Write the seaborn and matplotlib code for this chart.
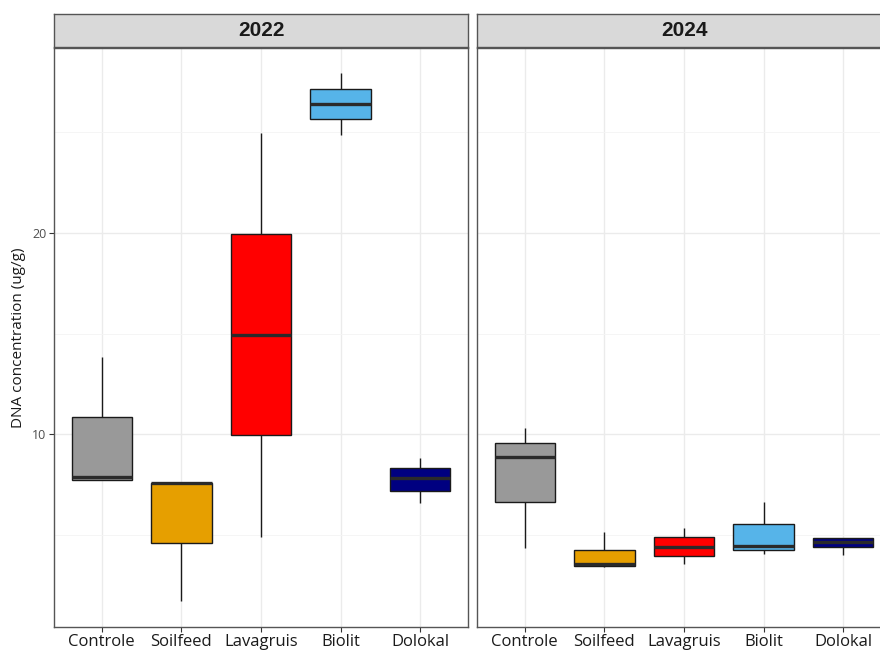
import matplotlib
matplotlib.use("Agg")
import matplotlib.pyplot as plt
import seaborn as sns
import pandas as pd

sns.set_theme(style="white")
plt.rcParams['font.family'] = ['Open Sans', 'DejaVu Sans']

categories = ["Controle", "Soilfeed", "Lavagruis", "Biolit", "Dolokal"]
years = ["2022", "2024"]
# five-number summaries: min, q1, median, q3, max
stats_2022 = {
    "Controle":  [7.73, 7.73, 7.87, 10.86, 13.85],
    "Soilfeed":  [1.73, 4.62, 7.57, 7.60, 7.60],
    "Lavagruis": [4.92, 9.97, 14.94, 19.92, 24.93],
    "Biolit":    [24.85, 25.64, 26.38, 27.13, 27.90],
    "Dolokal":   [6.61, 7.19, 7.82, 8.33, 8.84],
}
stats_2024 = {
    "Controle":  [4.38, 6.64, 8.89, 9.58, 10.30],
    "Soilfeed":  [3.42, 3.47, 3.55, 4.28, 5.17],
    "Lavagruis": [3.55, 3.98, 4.42, 4.89, 5.34],
    "Biolit":    [4.05, 4.26, 4.44, 5.55, 6.66],
    "Dolokal":   [4.01, 4.42, 4.67, 4.84, 4.84],
}
colors = ["#999999", "#E69F00", "#FF0000", "#56B4E9", "#000080"]
ylabel = "DNA concentration (ug/g)"

rows = []
for yr, st in zip(years, [stats_2022, stats_2024]):
    for c in categories:
        for v in st[c]:
            rows.append({"year": yr, "treat": c, "val": v})
df = pd.DataFrame(rows)
palette = dict(zip(categories, colors))

W, H = 880, 656
fig = plt.figure(figsize=(W / 100, H / 100), dpi=100)
pw = 414
lefts = [54, 477]
top_px, bot_px = 48, 627.3
strip_top = 14
for i, yr in enumerate(years):
    ax = fig.add_axes([lefts[i] / W, 1 - bot_px / H, pw / W, (bot_px - top_px) / H])
    sub = df[df.year == yr]
    sns.boxplot(data=sub, x="treat", y="val", hue="treat", order=categories,
                hue_order=categories, palette=palette, legend=False, ax=ax,
                whis=(0, 100), width=0.76, saturation=1, linecolor="#1a1a1a",
                linewidth=1.0, fliersize=0,
                medianprops=dict(color="#2a2a2a", linewidth=2.4, zorder=5),
                capprops=dict(linewidth=0))
    ax.set_xlim(-0.6, 4.6)
    ax.set_ylim(0.43, 29.16)
    ax.set_xlabel("")
    ax.set_ylabel("")
    ax.set_yticks([10, 20])
    ax.set_yticks([5, 15, 25], minor=True)
    ax.set_axisbelow(True)
    ax.grid(True, which="major", color="#EBEBEB", linewidth=1.0)
    ax.grid(True, which="minor", axis="y", color="#F4F4F4", linewidth=0.6)
    for s in ax.spines.values():
        s.set_color("#555555")
        s.set_linewidth(1.0)
    ax.tick_params(axis="both", which="major", length=3.5, width=0.8, color="#333333",
                   bottom=True, left=True)
    ax.tick_params(axis="both", which="minor", length=0)
    ax.tick_params(axis="x", labelsize=12, labelcolor="#1a1a1a", pad=1.5)
    ax.tick_params(axis="y", labelsize=9, labelcolor="#4D4D4D", pad=2)
    if i == 1:
        ax.tick_params(axis="y", labelleft=False, length=0)
    # strip
    sax = fig.add_axes([lefts[i] / W, 1 - (top_px - 1) / H, pw / W, (top_px - 1 - strip_top) / H])
    sax.set_xticks([]); sax.set_yticks([])
    sax.set_facecolor("#D9D9D9")
    for s in sax.spines.values():
        s.set_color("#555555")
        s.set_linewidth(1.0)
    sax.text(0.5, 0.5, yr, ha="center", va="center", fontsize=15, fontweight="bold",
             color="#1a1a1a", family=["Liberation Sans", "DejaVu Sans"],
             transform=sax.transAxes)

fig.text(18 / W, 1 - ((top_px + bot_px) / 2) / H, ylabel, rotation=90, ha="center",
         va="center", fontsize=11, color="#1a1a1a")

fig.savefig("out.png", dpi=100)
